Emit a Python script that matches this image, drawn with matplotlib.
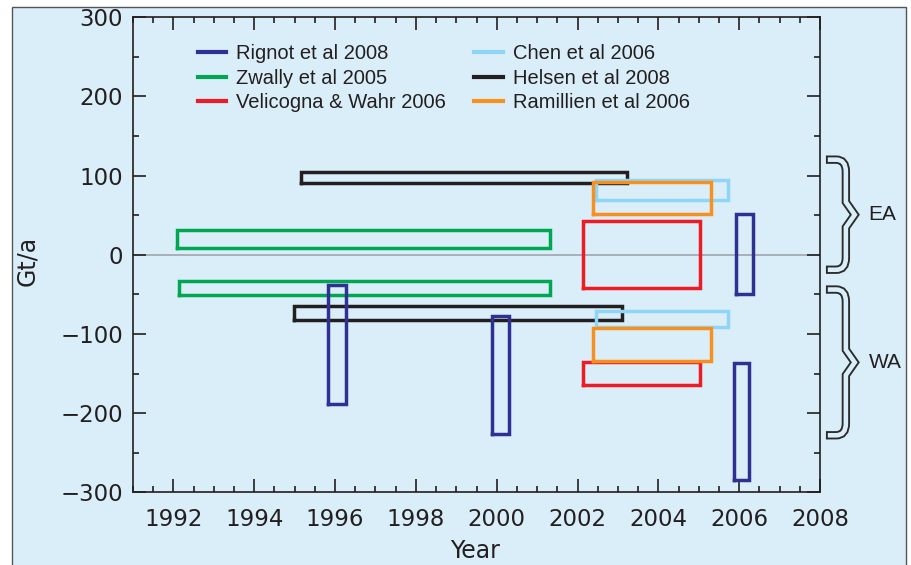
import matplotlib.pyplot as plt
from matplotlib.path import Path
from matplotlib.patches import PathPatch, Rectangle
from matplotlib.ticker import MultipleLocator

BG = "#daeef9"

# studies (legend order) and their colours
studies = ["Rignot et al 2008", "Zwally et al 2005", "Velicogna & Wahr 2006",
           "Chen et al 2006", "Helsen et al 2008", "Ramillien et al 2006"]
study_colors = ["#2e3192", "#00a651", "#ed1c24", "#8fd6f6", "#231f20", "#f7901e"]

# boxes: study index, start year, end year, low and high Gt/a
box_study = [1, 1, 4, 4, 2, 2, 3, 3, 5, 5, 0, 0, 0, 0]
box_t0 = [1992.10, 1992.13, 1995.15, 1994.99, 2002.14, 2002.14, 2002.46, 2002.46,
          2002.39, 2002.39, 1995.83, 1999.88, 2005.91, 2005.86]
box_t1 = [2001.31, 2001.33, 2003.22, 2003.09, 2005.03, 2005.03, 2005.73, 2005.73,
          2005.31, 2005.31, 1996.26, 2000.31, 2006.35, 2006.25]
box_lo = [8.5, -51, 90, -83, -42, -165, 69, -91, 52, -134, -188, -226, -50, -285]
box_hi = [31, -33, 104, -65, 43, -135, 94, -71, 92, -93, -38, -77, 52, -137]

# brace ranges for East / West Antarctica
regions = ["EA", "WA"]
region_lo = [-19, -228]
region_hi = [120, -44]

fig = plt.figure(figsize=(9.12, 5.65), dpi=100, facecolor="white")
fig.patches.append(Rectangle((12 / 912, -0.02), (906 - 12) / 912, (565 - 7) / 565 + 0.02,
                             transform=fig.transFigure, facecolor=BG,
                             edgecolor="#555555", lw=1.0, zorder=-10))

ax = fig.add_axes([133 / 912, (565 - 492.3) / 565, (820 - 133) / 912, (492.3 - 17.1) / 565])
ax.set_facecolor(BG)

ax.axhline(0, color="#a3abb3", lw=1.3, zorder=1)

seen = set()
for s, t0, t1, lo, hi in zip(box_study, box_t0, box_t1, box_lo, box_hi):
    label = studies[s] if s not in seen else None
    seen.add(s)
    ax.plot([t0, t1, t1, t0, t0], [lo, lo, hi, hi, lo], color=study_colors[s],
            lw=2.5, solid_joinstyle="miter", label=label, zorder=3)

ax.set_xlim(1991, 2008)
ax.set_ylim(-300, 300)
ax.xaxis.set_major_locator(MultipleLocator(2))
ax.xaxis.set_minor_locator(MultipleLocator(0.5))
ax.yaxis.set_major_locator(MultipleLocator(100))
ax.yaxis.set_minor_locator(MultipleLocator(50))
ax.tick_params(which="both", direction="in", top=True, right=True, width=1.2,
               color="#231f20", labelsize=16.5, labelcolor="#231f20")
ax.tick_params(which="major", length=9.5)
ax.tick_params(which="minor", length=4.5)
ax.tick_params(axis="x", pad=11)
ax.tick_params(axis="y", pad=7)
for sp in ax.spines.values():
    sp.set_linewidth(1.2)
    sp.set_color("#231f20")

ax.set_xlabel("Year", fontsize=17, color="#231f20")
ax.set_ylabel("Gt/a", fontsize=17, color="#231f20")
ax.xaxis.set_label_coords(0.498, -0.098)
ax.yaxis.set_label_coords(-0.137, 0.487)

handles, labels = ax.get_legend_handles_labels()
order = [labels.index(s) for s in studies]
leg = ax.legend([handles[i] for i in order], [labels[i] for i in order],
                ncol=2, loc="upper left", bbox_to_anchor=(0.0946, 0.944),
                frameon=False, borderpad=0, borderaxespad=0,
                prop={"family": "Liberation Sans", "size": 14.5},
                handlelength=1.4, handletextpad=0.5, columnspacing=1.4,
                labelspacing=0.29)
for t in leg.get_texts():
    t.set_color("#231f20")
for h in leg.legend_handles:
    h.set_linewidth(3)

# curly braces to the right of the axes
for name, lo, hi in zip(regions, region_lo, region_hi):
    mid = (lo + hi) / 2
    xe, xh, xv, xt = 2008.25, 2008.40, 2008.64, 2008.86
    verts = [(xe, hi), (xh, hi), (xv, hi), (xv, hi - 15), (xv, mid + 16), (xt, mid),
             (xv, mid - 16), (xv, lo + 15), (xv, lo), (xh, lo), (xe, lo)]
    codes = [Path.MOVETO, Path.LINETO, Path.CURVE3, Path.CURVE3, Path.LINETO,
             Path.LINETO, Path.LINETO, Path.LINETO, Path.CURVE3, Path.CURVE3, Path.LINETO]
    path = Path(verts, codes)
    ax.add_patch(PathPatch(path, fill=False, lw=6.0, edgecolor="#2b2b2b",
                           capstyle="projecting", joinstyle="miter", clip_on=False))
    ax.add_patch(PathPatch(path, fill=False, lw=3.3, edgecolor=BG,
                           capstyle="projecting", joinstyle="miter", clip_on=False))
    ax.text(2009.2, mid, name, fontsize=15, family="Liberation Sans", color="#231f20",
            ha="left", va="center", clip_on=False)

fig.savefig("out.png", dpi=100, facecolor=fig.get_facecolor())
